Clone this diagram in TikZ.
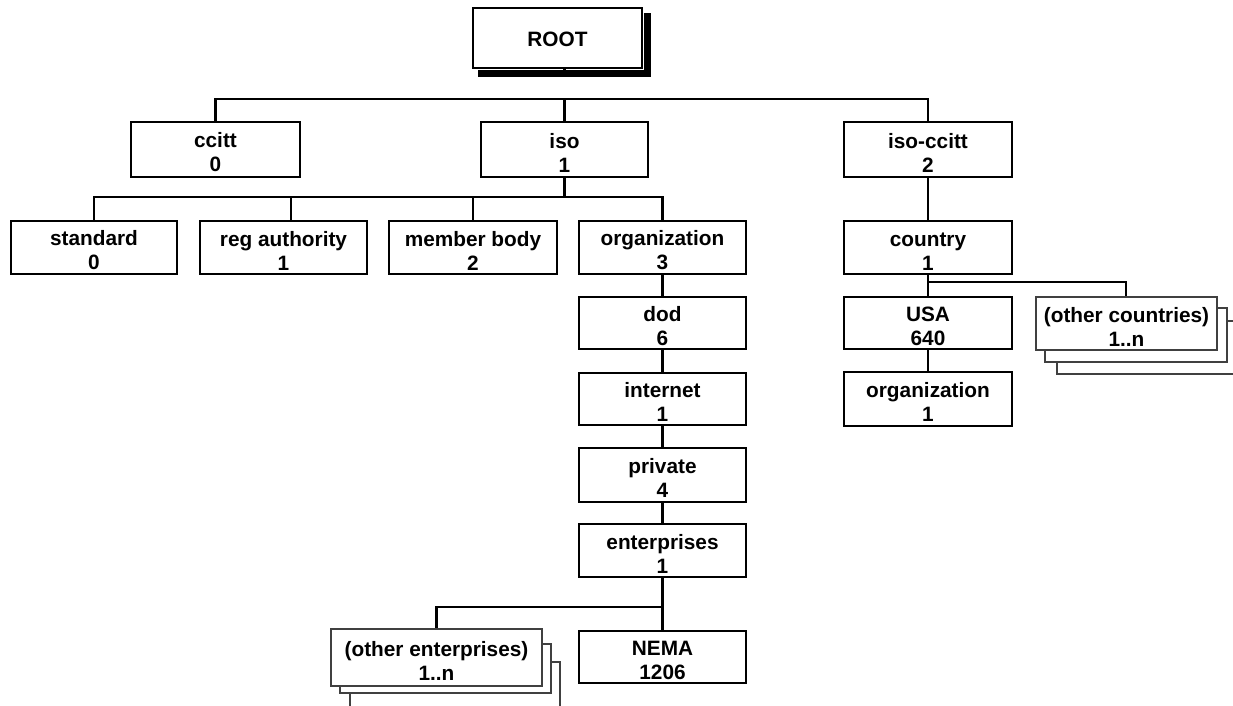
\documentclass[tikz,border=0pt]{standalone}
\usepackage{fontspec}
\setmainfont{Liberation Sans}
\newcommand\fl{\rule{0pt}{21pt}}
\begin{document}
\begin{tikzpicture}[x=1pt,y=-1pt,
  every node/.style={font=\fontsize{20.8}{24}\selectfont\bfseries, align=center, inner sep=0pt},
  box/.style={draw=black, line width=2.8pt, fill=white, rectangle, minimum width=167pt, minimum height=53pt},
  thinbox/.style={draw=black!75, line width=1.2pt, fill=white, rectangle},
  conn/.style={draw=black, line width=2.4pt},
  thinconn/.style={draw=black, line width=1.2pt}]
\useasboundingbox (0,0) rectangle (1233,706);
\clip (0,0) rectangle (1233,706);

% ROOT with shadow
\node[box, minimum width=169pt, minimum height=60pt] (root) at (557.5,38) {\rule{0pt}{18pt}ROOT};
\fill[black] ([shift={(6,1)}]root.south west) rectangle ([shift={(8,8)}]root.south east);
\fill[black] ([shift={(1,6)}]root.north east) rectangle ([shift={(8,8)}]root.south east);

% level 1
\node[box, minimum width=169pt, minimum height=55pt] (ccitt) at (215.5,149.5) {\fl ccitt\\0};
\node[box, minimum height=55pt] (iso) at (564.5,149.5) {\fl iso\\1};
\node[box, minimum width=168pt, minimum height=55pt] (isoccitt) at (928,149.5) {\fl iso-ccitt\\2};

% level 2
\node[box, minimum width=166pt] (standard) at (94,247.5) {\fl standard\\0};
\node[box] (reg) at (283.5,247.5) {\fl reg authority\\1};
\node[box, minimum width=168pt] (member) at (473,247.5) {\fl member body\\2};
\node[box] (org) at (662.5,247.5) {\fl organization\\3};
\node[box, minimum width=168pt] (country) at (928,247.5) {\fl country\\1};

% iso chain
\node[box, minimum height=52pt] (dod) at (662.5,323) {\fl dod\\6};
\node[box, minimum height=52pt] (internet) at (662.5,399) {\fl internet\\1};
\node[box, minimum height=54pt] (private) at (662.5,475) {\fl private\\4};
\node[box] (ent) at (662.5,550.5) {\fl enterprises\\1};
\node[box, minimum height=52pt] (nema) at (662.5,657) {\fl NEMA\\1206};

% iso-ccitt chain
\node[box, minimum width=168pt, minimum height=52pt] (usa) at (928,323) {\fl USA\\640};
\node[box, minimum width=168pt, minimum height=54pt] (org1) at (928,399) {\fl organization\\1};

% other countries stack
\draw[thinbox] (1057,321) rectangle (1240,374);
\draw[thinbox] (1045,308) rectangle (1227,362);
\node[thinbox, minimum width=181pt, minimum height=53pt] (oc) at (1126.5,323.5) {\fl (other countries)\\1..n};

% other enterprises stack
\draw[thinbox] (350,662) rectangle (560,720);
\draw[thinbox] (340,644) rectangle (551,693);
\node[thinbox, minimum width=211pt, minimum height=57pt] (oe) at (436.5,657.5) {\fl (other enterprises)\\1..n};

% connectors
\draw[conn] (iso.north |- root.south) -- ++(0,8);
\draw[conn] (iso.north) -- (iso.north |- 0,99);
\draw[conn] (ccitt.north) |- (isoccitt.north |- 0,99) -- (isoccitt.north);

\draw[conn] (iso.south) -- (iso.south |- 0,197);
\draw[conn] (standard.north) |- (org.north |- 0,197) -- (org.north);
\draw[conn] ([xshift=7.5pt]reg.north) -- ([xshift=7.5pt]reg.north |- 0,197);
\draw[conn] (member.north) -- (member.north |- 0,197);

\draw[conn] (org.south) -- (dod.north);
\draw[conn] (dod.south) -- (internet.north);
\draw[conn] (internet.south) -- (private.north);
\draw[conn] (private.south) -- (ent.north);
\draw[conn] (ent.south) -- (nema.north);
\draw[conn] (ent.south |- 0,607) -| (oe.north);

\draw[conn] (isoccitt.south) -- (country.north);
\draw[conn] (country.south) -- (usa.north);
\draw[conn] (country.south |- 0,282) -| ([xshift=-0.5pt]oc.north);
\draw[thinconn] (usa.south) -- (org1.north);
\end{tikzpicture}
\end{document}
